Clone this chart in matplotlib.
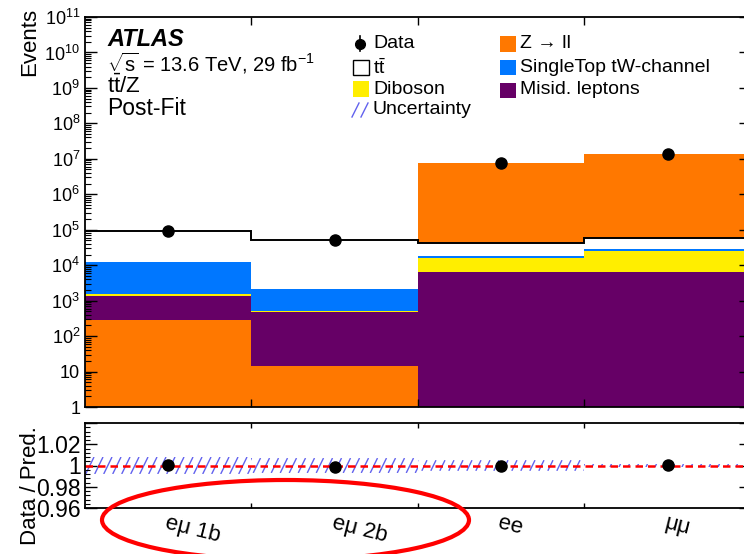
import numpy as np
import matplotlib
matplotlib.use("Agg")
import matplotlib.pyplot as plt
from matplotlib.patches import Rectangle, Ellipse
from matplotlib.lines import Line2D
from matplotlib.collections import LineCollection
from matplotlib.ticker import FixedLocator, FuncFormatter, NullFormatter

plt.rcParams['font.family'] = ['Liberation Sans', 'DejaVu Sans']
plt.rcParams['mathtext.fontset'] = 'custom'
plt.rcParams['mathtext.rm'] = 'Liberation Sans'
plt.rcParams['mathtext.it'] = 'Liberation Sans:italic'
plt.rcParams['mathtext.bf'] = 'Liberation Sans:bold'

# ---- yields per region ----
regions = ["eμ 1b", "eμ 2b", "ee", "μμ"]
data = [94100, 50100, 7.78e6, 1.366e7]
zll = [280, 14.5, 7.74e6, 1.36e7]
misid = [1100, 475, 6310, 6560]
diboson = [200, 20, 9650, 18600]
single_top = [10500, 1660, 2200, 2530]
ttbar = [82000, 48000, 23300, 29700]
rel_unc = [0.008, 0.007, 0.005, 0.0015]

# stacking order (bottom to top) in each region
stack_order = [
    ["zll", "misid", "diboson", "single_top", "ttbar"],
    ["zll", "misid", "diboson", "single_top", "ttbar"],
    ["misid", "diboson", "single_top", "ttbar", "zll"],
    ["misid", "diboson", "single_top", "ttbar", "zll"],
]

yields = {"zll": zll, "misid": misid, "diboson": diboson,
          "single_top": single_top, "ttbar": ttbar}
colors = {"zll": "#ff7800", "misid": "#660066", "diboson": "#ffee00",
          "single_top": "#0077ff", "ttbar": "#ffffff"}
labels = {"zll": "Z → ll", "misid": "Misid. leptons",
          "diboson": "Diboson", "single_top": "SingleTop tW-channel",
          "ttbar": r"$\mathrm{t\bar{t}}$"}
unc_color = "#6262ee"

W, H = 744, 554
fig = plt.figure(figsize=(W / 100, H / 100), dpi=100)


def fx(x):
    return x / W


def fy(y):
    return 1 - y / H


left, right = 85, 751
ax = fig.add_axes([fx(left), fy(407), fx(right - left), (407 - 17) / H])
axr = fig.add_axes([fx(left), fy(508), fx(right - left), (508 - 423) / H])

n = len(regions)
edges = np.arange(n + 1)
centers = edges[:-1] + 0.5

# ---- stacked histogram ----
total = np.zeros(n)
tt_top = np.zeros(n)
for i in range(n):
    bottom = 0.0
    for name in stack_order[i]:
        val = yields[name][i]
        ax.bar(edges[i], val, width=1, bottom=bottom, align='edge',
               color=colors[name], linewidth=0, zorder=1)
        bottom += val
        if name == "ttbar":
            tt_top[i] = bottom
    total[i] = bottom

ax.stairs(tt_top, edges, baseline=None, color='black', linewidth=1.4, zorder=2)

data = np.array(data)
ax.errorbar(centers, data, yerr=np.sqrt(data), fmt='o', color='black',
            markersize=8, elinewidth=1.2, capsize=0, zorder=5)

ax.set_yscale('log')
ax.set_ylim(1, 1e11)
ax.set_xlim(0, n)

major_y = [10.0 ** k for k in range(0, 12)]
minor_y = [m * 10.0 ** k for k in range(0, 11) for m in range(2, 10)]
ax.yaxis.set_major_locator(FixedLocator(major_y))
ax.yaxis.set_minor_locator(FixedLocator(minor_y))
ax.yaxis.set_minor_formatter(NullFormatter())


def log_label(v, pos):
    k = int(round(np.log10(v)))
    if k == 0:
        return "1"
    if k == 1:
        return "10"
    return r"$10^{%d}$" % k


ax.yaxis.set_major_formatter(FuncFormatter(log_label))
ax.set_xticks(edges[1:-1])
ax.set_xticklabels([])

for a in (ax, axr):
    a.tick_params(axis='both', which='both', direction='in', top=True, right=True)
    for sp in a.spines.values():
        sp.set_linewidth(1.3)
ax.tick_params(axis='y', which='major', length=8.5, width=1.0, labelsize=13)
ax.tick_params(axis='y', which='minor', length=4.3, width=0.8)
ax.tick_params(axis='x', which='major', length=5.5, width=1.0)

# ---- ratio panel ----
ratio = data / total
rel_unc = np.array(rel_unc)
axr.set_xlim(0, n)
axr.set_ylim(0.96, 1.04)

# steep hatching of the relative uncertainty band
pos = axr.get_position()
px_per_x = pos.width * W / n
px_per_y = pos.height * H / 0.08
spacing_px = 9.0
angle = np.deg2rad(64)
for i in range(n):
    lo, hi = 1 - rel_unc[i], 1 + rel_unc[i]
    band = Rectangle((edges[i], lo), 1, hi - lo, fill=False, linewidth=0,
                     transform=axr.transData)
    axr.add_patch(band)
    run = (hi - lo) * px_per_y / np.tan(angle) / px_per_x
    starts = np.arange(edges[i] - run, edges[i] + 1, spacing_px / px_per_x)
    segs = [[(s, lo), (s + run, hi)] for s in starts]
    lc = LineCollection(segs, colors=unc_color, linewidths=1.0, zorder=1)
    axr.add_collection(lc)
    lc.set_clip_path(band)

axr.axhline(1.0, color='red', linestyle=(0, (3, 2)), linewidth=1.8, zorder=2)
axr.errorbar(centers, ratio, yerr=ratio / np.sqrt(data), fmt='o', color='black',
             markersize=8, elinewidth=1.2, capsize=0, zorder=5)
axr.yaxis.set_major_locator(FixedLocator([0.96, 0.98, 1.0, 1.02, 1.04]))
axr.yaxis.set_minor_locator(FixedLocator(np.arange(0.96, 1.0401, 0.004)))
axr.yaxis.set_minor_formatter(NullFormatter())


def ratio_label(v, pos):
    if abs(v - 1.04) < 1e-6:
        return ""
    return ("%.2f" % v).rstrip('0').rstrip('.')


axr.yaxis.set_major_formatter(FuncFormatter(ratio_label))
axr.set_xticks(edges[1:-1])
axr.set_xticklabels([])
axr.tick_params(axis='y', which='major', length=8.5, width=1.0, labelsize=16.5, pad=3)
axr.tick_params(axis='y', which='minor', length=3.5, width=0.8)
axr.tick_params(axis='x', which='major', length=3.8, width=1.0)

for c, lab in zip(centers, regions):
    axr.text(c, -0.05, lab, transform=axr.get_xaxis_transform(), fontsize=16,
             rotation=-14, rotation_mode='anchor', ha='left', va='top')

# ---- axis titles ----
fig.text(fx(30), fy(42), "Events", rotation=90, fontsize=16, ha='center', va='center')
fig.text(fx(30), fy(486), "Data / Pred.", rotation=90, fontsize=16, ha='center', va='center')

# ---- labels ----
fig.text(fx(107), fy(46), "ATLAS", fontsize=17, fontweight='bold', fontstyle='italic',
         va='baseline')
fig.text(fx(107), fy(72), r"$\sqrt{\mathrm{s}}$ = 13.6 TeV, 29 fb$^{-1}$", fontsize=14.5,
         va='baseline')
fig.text(fx(107), fy(93), r"$\mathrm{t\bar{t}}$/Z", fontsize=16, va='baseline')
fig.text(fx(107), fy(115), "Post-Fit", fontsize=16.5, va='baseline')

# ---- legend ----
def legend_box(x0, yc, name, text_x):
    r = Rectangle((fx(x0), fy(yc + 7.5)), 16 / W, 15 / H, transform=fig.transFigure,
                  facecolor=colors[name],
                  edgecolor='black' if name == "ttbar" else colors[name],
                  linewidth=1.0 if name == "ttbar" else 0)
    fig.add_artist(r)
    fig.text(fx(text_x), fy(yc), labels[name], fontsize=14, va='center')


# data entry
fig.add_artist(Line2D([fx(360), fx(360)], [fy(36), fy(51)], transform=fig.transFigure,
                      color='black', linewidth=1.2))
fig.add_artist(Line2D([fx(360)], [fy(43.5)], transform=fig.transFigure, marker='o',
                      color='black', markersize=7))
fig.text(fx(373), fy(43), "Data", fontsize=14, va='center')
legend_box(353, 68, "ttbar", 373)
legend_box(353, 89, "diboson", 373)
for x0 in (352, 361):
    fig.add_artist(Line2D([fx(x0), fx(x0 + 7)], [fy(117), fy(103)],
                          transform=fig.transFigure, color=unc_color, linewidth=1.0))
fig.text(fx(373), fy(110), "Uncertainty", fontsize=14, va='center')
legend_box(500, 44, "zll", 520)
legend_box(500, 68, "single_top", 520)
legend_box(500, 90, "misid", 520)

# ---- highlight around the eμ regions ----
ring = Ellipse((fx(285.5), fy(520)), 367 / W, 80 / H, transform=fig.transFigure,
               fill=False, edgecolor='#ff0000', linewidth=3.0, zorder=10)
fig.add_artist(ring)

fig.savefig("out.png", dpi=100)
